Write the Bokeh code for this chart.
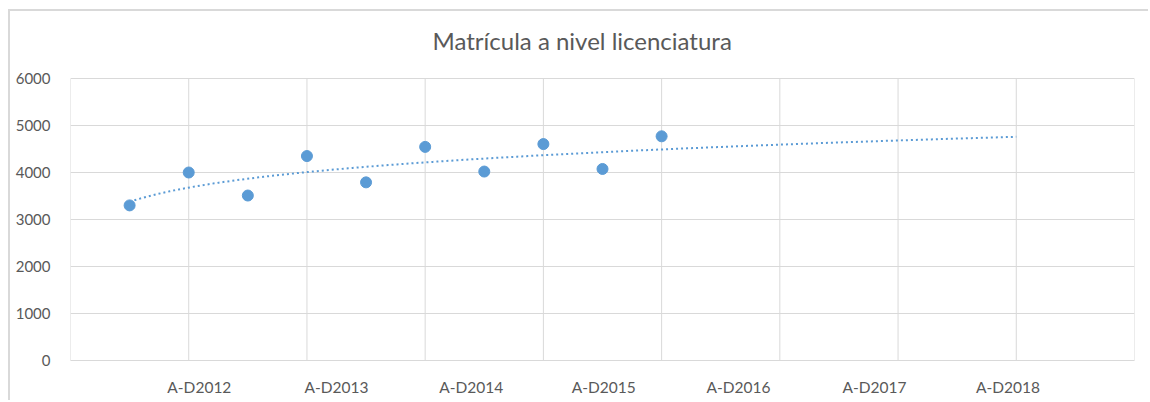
import numpy as np
from bokeh.plotting import figure
from bokeh.models import FixedTicker, Range1d, ColumnDataSource, Label
from bokeh.embed import file_html
from bokeh.resources import INLINE

# ---- data ----
title_text = "Matrícula a nivel licenciatura"
period_index = [1, 2, 3, 4, 5, 6, 7, 8, 9, 10]          # semester number
matricula = [3300, 4000, 3510, 4350, 3790, 4545, 4020, 4605, 4075, 4770]
x_labels = ["A-D2012", "A-D2013", "A-D2014", "A-D2015", "A-D2016", "A-D2017", "A-D2018"]
y_ticks = [0, 1000, 2000, 3000, 4000, 5000, 6000]
forecast_to = 16   # trendline extended to period 16

# ---- layout constants ----
label_pos = [1.09, 2.25, 3.39, 4.51, 5.65, 6.80, 7.93]
grid_pos = [0, 1, 2, 3, 4, 5, 6, 7, 8, 9]
BLUE = "#5B9BD5"
GRID = "#d9d9d9"
TEXT = "#595959"
FONT = "Lato"

W, H = 1140, 391
MB_BOTTOM = 42
AXIS_PX = 282            # pixels from 0 to 6000
frame_h = H - MB_BOTTOM
y_top = y_ticks[-1] * frame_h / AXIS_PX     # frame extends up to the canvas top
units_per_px = y_ticks[-1] / AXIS_PX

t = np.array(period_index, dtype=float)
xs = t / 2.0
src = ColumnDataSource(dict(x=xs, y=matricula))

# power trendline (least squares on ln(t), ln(y)), like Excel
a, lnc = np.polyfit(np.log(t), np.log(np.array(matricula, dtype=float)), 1)
tt = np.linspace(1, forecast_to, 200)
trend = ColumnDataSource(dict(x=tt / 2.0, y=np.exp(lnc) * tt ** a))

p = figure(width=W, height=H, output_backend="svg", toolbar_location=None,
           x_range=Range1d(0, 9), y_range=Range1d(0, y_top),
           min_border_left=60, min_border_right=16, min_border_top=0, min_border_bottom=MB_BOTTOM,
           styles={"border-left": f"2px solid {GRID}", "border-top": f"2px solid {GRID}",
                   "margin-left": "8px", "margin-top": "9px"})
p.outline_line_color = None
p.background_fill_color = "white"
p.border_fill_color = "white"

# grids: horizontal from the axis ticker, vertical lines bounded to the 0..6000 plot area
p.xgrid.grid_line_color = None
p.ygrid.ticker = FixedTicker(ticks=y_ticks)
p.ygrid.grid_line_color = GRID
p.segment(x0=grid_pos, y0=[y_ticks[0]] * len(grid_pos), x1=grid_pos,
          y1=[y_ticks[-1]] * len(grid_pos), line_color=GRID, line_width=1, level="underlay")

# x axis
p.xaxis.ticker = FixedTicker(ticks=label_pos)
p.xaxis.major_label_overrides = {pos: lab for pos, lab in zip(label_pos, x_labels)}
p.xaxis.axis_line_color = GRID
p.xaxis.major_tick_line_color = None
p.xaxis.minor_tick_line_color = None
p.xaxis.major_label_text_font = FONT
p.xaxis.major_label_text_font_size = "15.5px"
p.xaxis.major_label_text_color = TEXT
p.xaxis.major_label_standoff = 11

# y axis
p.yaxis.ticker = FixedTicker(ticks=y_ticks)
p.yaxis.axis_line_color = None
p.yaxis.major_tick_line_color = None
p.yaxis.minor_tick_line_color = None
p.yaxis.major_label_text_font = FONT
p.yaxis.major_label_text_font_size = "15px"
p.yaxis.major_label_text_color = TEXT
p.yaxis.major_label_standoff = 14

# trendline and points
p.line("x", "y", source=trend, line_color=BLUE, line_width=2, line_dash="2 3")
p.scatter("x", "y", source=src, size=11, fill_color=BLUE, line_color=BLUE)

# chart title, centred over the whole chart area
p.add_layout(Label(x=4.328, y=y_ticks[-1] + 38.5 * units_per_px, text=title_text,
                   text_align="center", text_baseline="middle", text_font=FONT,
                   text_font_size="24px", text_color=TEXT))

open("out.html", "w").write(file_html(p, INLINE))
